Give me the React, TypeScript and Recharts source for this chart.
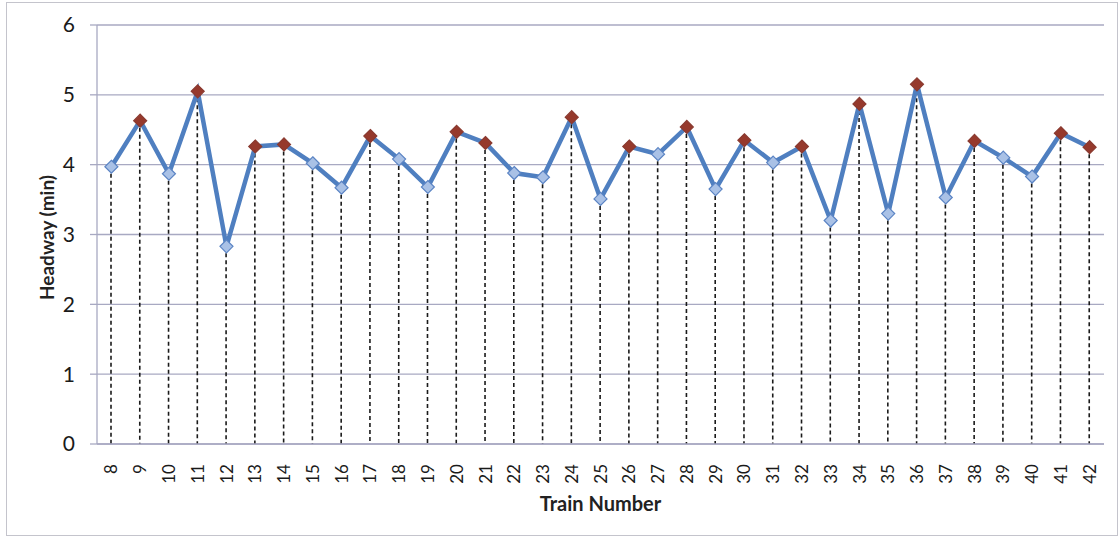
import { ComposedChart, Line, Bar, XAxis, YAxis, CartesianGrid } from 'recharts'

const trains = [
  '8', '9', '10', '11', '12', '13', '14', '15', '16', '17', '18', '19',
  '20', '21', '22', '23', '24', '25', '26', '27', '28', '29', '30', '31',
  '32', '33', '34', '35', '36', '37', '38', '39', '40', '41', '42'
]

const headways = [
  3.97, 4.63, 3.87, 5.05, 2.83, 4.26, 4.29, 4.02, 3.67, 4.41, 4.08, 3.68,
  4.47, 4.31, 3.88, 3.82, 4.68, 3.51, 4.26, 4.15, 4.54, 3.65, 4.35, 4.03,
  4.26, 3.2, 4.87, 3.3, 5.15, 3.53, 4.34, 4.1, 3.83, 4.45, 4.25
]

const yTicks = [0, 1, 2, 3, 4, 5, 6]

// headways above this get the dark red marker
const highMark = 4.2

const data = trains.map((train, i) => ({ train, headway: headways[i] }))

const FONT = 'Lato, "Open Sans", sans-serif'
const GRID = '#a8a9c2'

// dashed drop line from the point down to the axis
const DropLine = (props: any) => {
  const { x, y, width, height } = props
  const cx = x + width / 2
  return (
    <line
      x1={cx}
      x2={cx}
      y1={y}
      y2={y + height}
      stroke="#1a1a1a"
      strokeWidth={1.6}
      strokeDasharray="4 3" />
  )
}

const Diamond = (props: any) => {
  const { cx, cy, value, index } = props
  const r = 6.5
  const high = value > highMark
  return (
    <path
      key={`d-${index}`}
      d={`M${cx},${cy - r} L${cx + r},${cy} L${cx},${cy + r} L${cx - r},${cy} Z`}
      fill={high ? '#96392c' : '#a9c1e6'}
      stroke={high ? '#8a3a30' : '#5b84c4'}
      strokeWidth={1.2} />
  )
}

const TrainTick = (props: any) => {
  const { x, y, payload } = props
  return (
    <text
      x={x}
      y={y}
      transform={`rotate(-90, ${x}, ${y})`}
      textAnchor="end"
      dy="0.36em"
      fontFamily={FONT}
      fontSize={17}
      fill="#1a1a1a">
      {payload.value}
    </text>
  )
}

const App = () => {
  return (
    <div style={{ position: 'absolute', left: 6, top: 2, width: 1110, height: 532, border: '1px solid #c4c4cc', background: '#fff' }}>
      <ComposedChart width={1110} height={532} data={data} margin={{ top: 22, right: 13, bottom: 0, left: 0 }}>
        <CartesianGrid vertical={false} stroke={GRID} strokeWidth={1.3} />
        <XAxis
          dataKey="train"
          interval={0}
          height={91}
          tickLine={false}
          tickMargin={14}
          axisLine={{ stroke: GRID, strokeWidth: 1.3 }}
          tick={<TrainTick />}
          label={({ viewBox }: any) => (
            <text
              x={viewBox.x + viewBox.width / 2}
              y={viewBox.y + 67}
              textAnchor="middle"
              fontFamily={FONT}
              fontWeight="bold"
              fontSize={20}
              fill="#222">
              Train Number
            </text>
          )} />
        <YAxis
          width={90}
          domain={[0, 6]}
          ticks={yTicks}
          tickSize={7}
          tickMargin={15}
          axisLine={{ stroke: GRID, strokeWidth: 1.3 }}
          tickLine={{ stroke: GRID, strokeWidth: 1.3 }}
          tick={{ fontFamily: FONT, fontSize: 21, fill: '#1a1a1a' }}
          label={({ viewBox }: any) => {
            const cx = 39
            const cy = viewBox.y + viewBox.height / 2 + 3
            return (
              <text
                x={cx}
                y={cy}
                transform={`rotate(-90, ${cx}, ${cy})`}
                textAnchor="middle"
                dominantBaseline="central"
                fontFamily={FONT}
                fontWeight="bold"
                fontSize={19}
                fill="#222">
                Headway (min)
              </text>
            )
          }} />
        <Bar dataKey="headway" barSize={2} shape={<DropLine />} isAnimationActive={false} />
        <Line
          type="linear"
          dataKey="headway"
          stroke="#4f7fc0"
          strokeWidth={4.5}
          dot={(p: any) => <Diamond {...p} />}
          activeDot={false}
          isAnimationActive={false} />
      </ComposedChart>
    </div>
  )
}

export default App
